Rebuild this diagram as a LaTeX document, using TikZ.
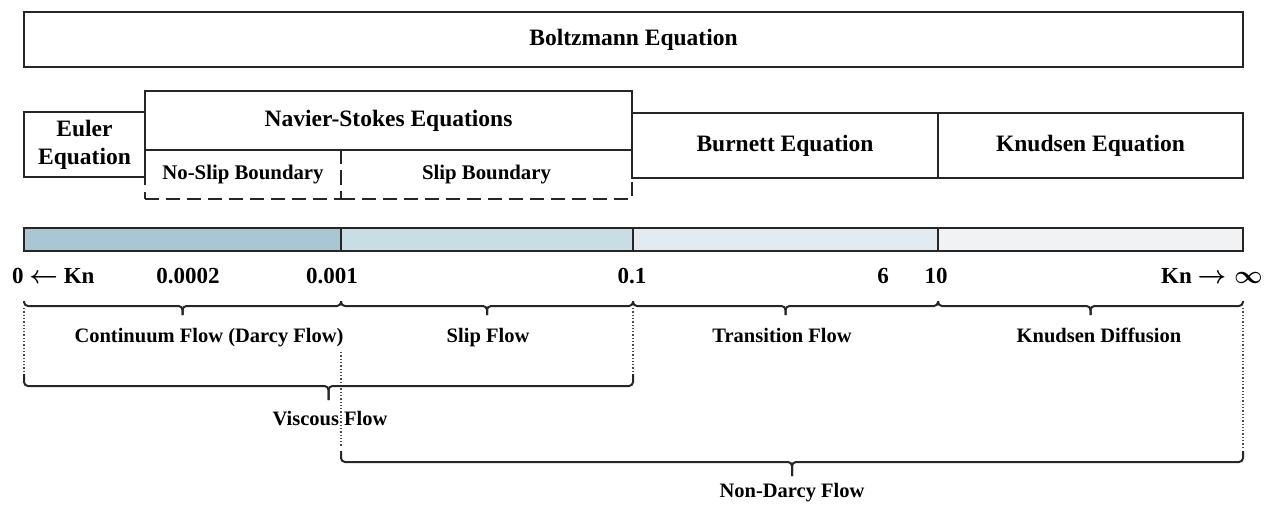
\documentclass[tikz,border=0pt]{standalone}
\usepackage{fontspec}
\setmainfont{Liberation Serif}
\usetikzlibrary{positioning}
\definecolor{segA}{HTML}{A9C7D3}
\definecolor{segB}{HTML}{C9DDE5}
\definecolor{segC}{HTML}{E3EBF0}
\definecolor{segD}{HTML}{F1F2F3}
\tikzset{
  eqbox/.style={draw=black!85, line width=2.2pt, fill=white, inner sep=0pt,
    font=\bfseries\fontsize{23.5}{28}\selectfont, align=center},
  subbox/.style={draw=black!85, line width=2pt, dash pattern=on 14pt off 7pt, inner sep=0pt,
    font=\bfseries\fontsize{20.8}{24}\selectfont},
  barseg/.style={draw=black!85, line width=2.2pt, inner sep=0pt, minimum height=23pt},
  ticklab/.style={font=\bfseries\boldmath\fontsize{23}{26}\selectfont, inner sep=0pt, anchor=base},
  flowlab/.style={font=\bfseries\fontsize{20.5}{24}\selectfont, inner sep=0pt, anchor=base},
  brc/.style={draw=black!85, line width=2pt, rounded corners=4pt},
  guide/.style={draw=black!70, line width=1.3pt, dotted}
}
\newcommand\flowbrace[5]{%
  \draw[brc] (#1,#3) -- (#1,#4) -- ({(#1+#2)/2},#4) -- ({(#1+#2)/2},#5);
  \draw[brc] (#2,#3) -- (#2,#4) -- ({(#1+#2)/2},#4) -- ({(#1+#2)/2},#5);
}
\begin{document}
\begin{tikzpicture}[x=1pt,y=-1pt]
\useasboundingbox (0,0) rectangle (1271,505);
% Equation boxes
\node[eqbox, minimum width=1219pt, minimum height=55pt] (boltz) at (633.5,39.5) {Boltzmann Equation};
\node[subbox, minimum width=196pt, minimum height=49pt] (noslip) at (243,174.5) {No-Slip Boundary};
\node[subbox, minimum width=291pt, minimum height=49pt] (slipb) at (486.5,174.5) {Slip Boundary};
\node[eqbox, minimum width=121pt, minimum height=65pt] (euler) at (84.5,144.5) {Euler\\Equation};
\node[eqbox, minimum width=487pt, minimum height=59pt] (ns) at (388.5,120.5) {Navier-Stokes Equations};
\node[eqbox, minimum width=306pt, minimum height=65pt] (burnett) at (785,145.5) {Burnett Equation};
\node[eqbox, minimum width=305pt, minimum height=65pt] (knudsen) at (1090.5,145.5) {Knudsen Equation};
% Bar
\node[barseg, fill=segA, minimum width=317pt] (s1) at (182.5,239.5) {};
\node[barseg, fill=segB, minimum width=292pt] (s2) at (487,239.5) {};
\node[barseg, fill=segC, minimum width=305pt] (s3) at (785.5,239.5) {};
\node[barseg, fill=segD, minimum width=305pt] (s4) at (1090.5,239.5) {};
% Tick labels
\node[ticklab, anchor=base west] (k0) at (12,283) {0 $\leftarrow$ Kn};
\node[ticklab] (k1) at (188,283) {0.0002};
\node[ticklab] (k2) at (332,283) {0.001};
\node[ticklab] (k3) at (632,283) {0.1};
\node[ticklab] (k4) at (883,283) {6};
\node[ticklab] (k5) at (936,283) {10};
\node[ticklab, anchor=base east] (k6) at (1263,283) {Kn $\rightarrow\infty$};
% Dotted guides
\draw[guide] (24,308) -- (24,372);
\draw[guide] (633,308) -- (633,375);
\draw[guide] (341,352) -- (341,446);
\draw[guide] (1243,308) -- (1243,449);
% Braces
\flowbrace{24}{341}{301}{306}{315}
\flowbrace{341}{633}{301}{306}{315}
\flowbrace{633}{938}{301}{306}{315}
\flowbrace{938}{1243}{301}{306}{315}
\flowbrace{24}{633}{374}{386}{400}
\flowbrace{341}{1243}{451}{462}{476}
% Flow labels
\node[flowlab] (cf) at (209,342) {Continuum Flow (Darcy Flow)};
\node[flowlab] (sf) at (488,342) {Slip Flow};
\node[flowlab] (tf) at (782,342) {Transition Flow};
\node[flowlab] (kd) at (1099,342) {Knudsen Diffusion};
\node[flowlab] (vf) at (330,425) {Viscous Flow};
\node[flowlab] (nd) at (792,497) {Non-Darcy Flow};
\end{tikzpicture}
\end{document}
